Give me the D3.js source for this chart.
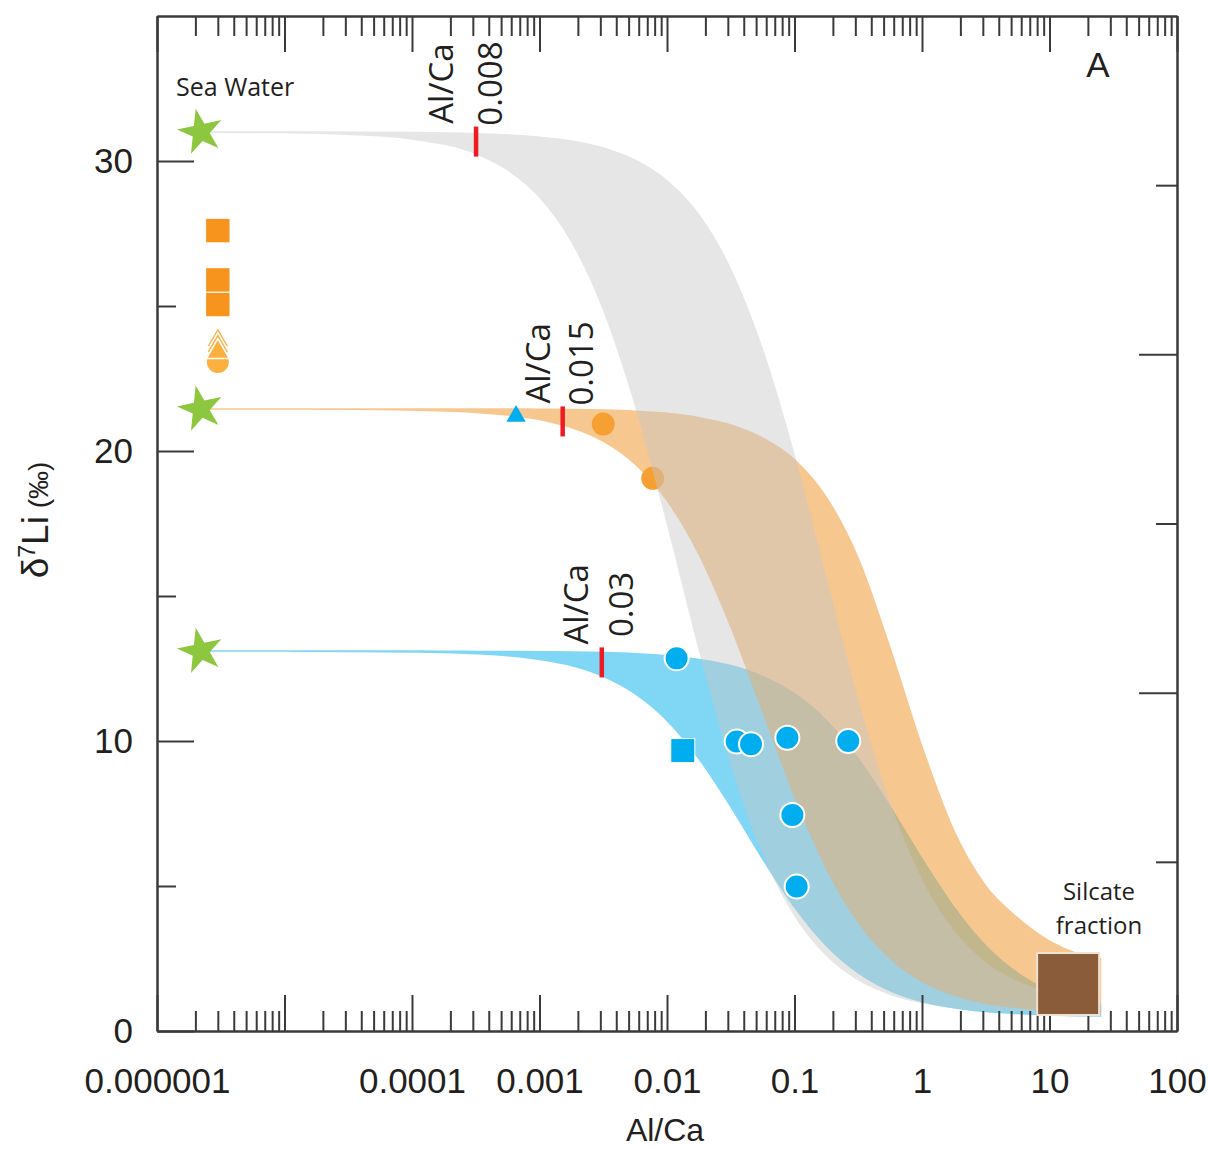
<!DOCTYPE html>
<html><head><meta charset="utf-8">
<script src="https://cdn.jsdelivr.net/npm/d3@7"></script>
<style>
body{margin:0;background:#fff;}
svg{display:block;}
</style></head>
<body><svg id="chart" width="1210" height="1149"></svg>
<script>
// ---------- DATA ----------
// Al/Ca positions at which the mixing-band edges were read
const bandAlCa = [2.2e-6, 1e-5, 3.16e-5, 1e-4, 3.16e-4, 5.62e-4, 1e-3, 1.78e-3, 3.16e-3, 5.62e-3, 0.01, 0.0178, 0.0316, 0.0562, 0.1, 0.178, 0.316, 0.562, 1, 1.78, 3.16, 5.62, 10, 15.8, 25.1];
const grayLower   = [31.0, 30.98, 30.92, 30.76, 30.26, 29.70, 28.76, 27.24, 24.90, 21.61, 17.54, 13.20, 9.26, 6.16, 4.00, 2.61, 1.77, 1.27, 0.98, 0.81, 0.72, 0.67, 0.64, 0.62, 0.61];
const grayUpper   = [31.0, 31.0, 30.99, 30.98, 30.94, 30.90, 30.82, 30.69, 30.45, 30.03, 29.32, 28.14, 26.26, 23.49, 19.81, 15.55, 11.35, 7.80, 5.18, 3.43, 2.34, 1.69, 1.30, 1.12, 1.00];
const orangeLower = [21.45, 21.45, 21.44, 21.41, 21.33, 21.24, 21.09, 20.81, 20.34, 19.55, 18.30, 16.44, 13.95, 11.03, 8.11, 5.61, 3.75, 2.50, 1.71, 1.24, 0.96, 0.81, 0.72, 0.67, 0.65];
const orangeUpper = [21.45, 21.45, 21.45, 21.45, 21.45, 21.45, 21.44, 21.43, 21.41, 21.37, 21.30, 21.15, 20.90, 20.45, 19.70, 18.40, 16.30, 13.20, 9.80, 6.90, 5.00, 3.90, 3.10, 2.70, 2.50];
const blueLower   = [13.1, 13.1, 13.09, 13.07, 13.01, 12.94, 12.81, 12.60, 12.23, 11.63, 10.71, 9.39, 7.74, 5.94, 4.27, 2.94, 2.00, 1.39, 1.02, 0.80, 0.67, 0.60, 0.55, 0.53, 0.52];
const blueUpper   = [13.1, 13.1, 13.1, 13.1, 13.09, 13.09, 13.08, 13.07, 13.05, 13.01, 12.94, 12.81, 12.60, 12.23, 11.63, 10.71, 9.39, 7.74, 5.94, 4.27, 2.94, 2.00, 1.39, 1.08, 0.87];

const seaWaterAlCa = [2.2e-6, 2.2e-6, 2.2e-6];
const seaWaterD7Li = [31.0, 21.45, 13.1];

const orangeSquareAlCa = [3.0e-6, 3.0e-6, 3.0e-6];
const orangeSquareD7Li = [27.6, 25.9, 25.05];
const orangeRoundAlCa = [3.0e-6];
const orangeRoundD7Li = [23.07];
const orangeTriAlCa = [3.0e-6, 3.0e-6, 3.0e-6];
const orangeTriD7Li = [23.82, 23.62, 23.42];
const orangeCircleAlCa = [0.00316, 0.00773];
const orangeCircleD7Li = [20.93, 19.06];

const blueTriAlCa = [0.000655];
const blueTriD7Li = [21.2];
const blueSquareAlCa = [0.0133];
const blueSquareD7Li = [9.67];
const blueCircleAlCa = [0.0119, 0.0352, 0.0456, 0.0879, 0.264, 0.0962, 0.104];
const blueCircleD7Li = [12.85, 9.98, 9.89, 10.11, 10.0, 7.45, 4.98];

const silicateAlCa = [14];
const silicateD7Li = [1.62];

const thresholdAlCa = [3.18e-4, 1.52e-3, 3.08e-3];
const thresholdD7Li = [30.67, 21.02, 12.71];
const thresholdLabels = ["0.008", "0.015", "0.03"];

const xMajorTicks = [1e-6, 1e-5, 1e-4, 1e-3, 1e-2, 1e-1, 1, 10, 100];
const xTickLabels = ["0.000001", "", "0.0001", "0.001", "0.01", "0.1", "1", "10", "100"];
const yMajorTicks = [0, 10, 20, 30];
const yMinorTicks = [5, 15, 25];
const rightMajorTicks = [2, 4];
const rightMinorTicks = [1, 3, 5];

// ---------- LAYOUT ----------
const svg = d3.select("#chart");
const x = d3.scaleLog().domain([1e-6, 100]).range([157, 1177]);
const y = d3.scaleLinear().domain([0, 35]).range([1031, 16]);
const yR = d3.scaleLinear().domain([0, 6]).range([1031, 16]);
const numFont = "'Liberation Sans', Arial, Helvetica, sans-serif";
const lblFont = "'Open Sans', 'Noto Sans', sans-serif";
const ink = "#231f20";
const axisInk = "#3a3a3a";

const minorX = [];
for (let e = -6; e < 2; e++) for (let m = 2; m <= 9; m++) minorX.push(m * Math.pow(10, e));

// ---------- BANDS ----------
const area = d3.area()
  .x(d => x(d.a)).y0(d => y(d.lo)).y1(d => y(d.hi))
  .curve(d3.curveMonotoneX);
const mk = (lo, hi) => bandAlCa.map((a, i) => ({a, lo: lo[i], hi: hi[i]}));

const gBlue = svg.append("g");
gBlue.append("path").attr("d", area(mk(blueLower, blueUpper)))
  .attr("fill", "rgb(128,214,245)").attr("stroke", "rgb(128,214,245)").attr("stroke-width", 1.5);

const gOrange = svg.append("g").attr("opacity", 0.57);
gOrange.append("path").attr("d", area(mk(orangeLower, orangeUpper)))
  .attr("fill", "rgb(242,158,62)").attr("stroke", "rgb(242,158,62)").attr("stroke-width", 1.5);

// orange samples lying on the band (under the grey band)
svg.append("g").selectAll("circle").data(orangeCircleAlCa).join("circle")
  .attr("cx", d => x(d)).attr("cy", (d, i) => y(orangeCircleD7Li[i])).attr("r", 11.5)
  .attr("fill", "#f6a034");

const gGray = svg.append("g").attr("opacity", 0.45);
gGray.append("path").attr("d", area(mk(grayLower, grayUpper)))
  .attr("fill", "rgb(200,200,200)").attr("stroke", "rgb(200,200,200)").attr("stroke-width", 1.5);

// ---------- AXES ----------
function styleAxis(g) {
  g.selectAll("path.domain").attr("stroke", axisInk).attr("stroke-width", 2);
  g.selectAll(".tick line").attr("stroke", axisInk).attr("stroke-width", 2);
  g.selectAll(".tick text").attr("fill", ink).attr("font-family", numFont).attr("font-size", 35);
}
// bottom
svg.append("g").attr("transform", "translate(0,1031)")
  .call(d3.axisBottom(x).tickValues(minorX).tickSizeInner(-20).tickSizeOuter(0).tickFormat(""))
  .call(styleAxis);
svg.append("g").attr("transform", "translate(0,1031)")
  .call(d3.axisBottom(x).tickValues(xMajorTicks).tickSizeInner(-36).tickSizeOuter(0).tickPadding(37)
    .tickFormat((d, i) => xTickLabels[i]))
  .call(styleAxis);
// top
svg.append("g").attr("transform", "translate(0,16)")
  .call(d3.axisTop(x).tickValues(minorX).tickSizeInner(-20).tickSizeOuter(0).tickFormat(""))
  .call(styleAxis);
svg.append("g").attr("transform", "translate(0,16)")
  .call(d3.axisTop(x).tickValues(xMajorTicks).tickSizeInner(-36).tickSizeOuter(0).tickFormat(""))
  .call(styleAxis);
// left
svg.append("g").attr("transform", "translate(157,0)")
  .call(d3.axisLeft(y).tickValues(yMinorTicks).tickSizeInner(-19).tickSizeOuter(0).tickFormat(""))
  .call(styleAxis);
svg.append("g").attr("transform", "translate(157,0)")
  .call(d3.axisLeft(y).tickValues(yMajorTicks).tickSizeInner(-37).tickSizeOuter(0).tickPadding(24)
    .tickFormat(d3.format("d")))
  .call(styleAxis);
// right
svg.append("g").attr("transform", "translate(1177,0)")
  .call(d3.axisRight(yR).tickValues(rightMinorTicks).tickSizeInner(-21).tickSizeOuter(0).tickFormat(""))
  .call(styleAxis);
svg.append("g").attr("transform", "translate(1177,0)")
  .call(d3.axisRight(yR).tickValues(rightMajorTicks).tickSizeInner(-38).tickSizeOuter(0).tickFormat(""))
  .call(styleAxis);

// ---------- MARKERS ----------
// sea water stars
svg.append("g").selectAll("path").data(seaWaterAlCa).join("path")
  .attr("d", d3.symbol(d3.symbolStar, 640)())
  .attr("transform", (d, i) => `translate(${x(d)},${y(seaWaterD7Li[i])}) rotate(-12)`)
  .attr("fill", "#8dc63f");

// orange squares
svg.append("g").selectAll("rect").data(orangeSquareAlCa).join("rect")
  .attr("x", d => x(d) - 11.7).attr("y", (d, i) => y(orangeSquareD7Li[i]) - 11.7)
  .attr("width", 23.4).attr("height", 23.4).attr("fill", "#f7941d");
// orange round + stacked triangles
svg.append("g").selectAll("circle").data(orangeRoundAlCa).join("circle")
  .attr("cx", d => x(d)).attr("cy", (d, i) => y(orangeRoundD7Li[i])).attr("r", 11)
  .attr("fill", "#fbb040");
svg.append("g").selectAll("path").data(orangeTriAlCa).join("path")
  .attr("d", d3.symbol(d3.symbolTriangle, 231)())
  .attr("transform", (d, i) => `translate(${x(d)},${y(orangeTriD7Li[i])})`)
  .attr("fill", "#fbb040").attr("stroke", "#fff").attr("stroke-width", 1.6);

// blue triangle
svg.append("g").selectAll("path").data(blueTriAlCa).join("path")
  .attr("d", d3.symbol(d3.symbolTriangle, 160)())
  .attr("transform", (d, i) => `translate(${x(d)},${y(blueTriD7Li[i])})`)
  .attr("fill", "#00aeef");
// blue square
svg.append("g").selectAll("rect").data(blueSquareAlCa).join("rect")
  .attr("x", d => x(d) - 12).attr("y", (d, i) => y(blueSquareD7Li[i]) - 12)
  .attr("width", 24).attr("height", 24).attr("fill", "#00aeef")
  .attr("stroke", "#fff").attr("stroke-width", 1);
// blue circles
svg.append("g").selectAll("circle").data(blueCircleAlCa).join("circle")
  .attr("cx", d => x(d)).attr("cy", (d, i) => y(blueCircleD7Li[i])).attr("r", 12)
  .attr("fill", "#00aeef").attr("stroke", "#fff").attr("stroke-width", 2);

// threshold markers + labels
const labelOffsets = [[-23, 26], [-13, 30], [-14, 31]];
const gThr = svg.append("g");
thresholdAlCa.forEach((a, i) => {
  const mx = x(a), my = y(thresholdD7Li[i]);
  gThr.append("line").attr("x1", mx).attr("x2", mx).attr("y1", my - 15).attr("y2", my + 15)
    .attr("stroke", "#ed1c24").attr("stroke-width", 4.5);
  const cy = my - 15 - 43;
  [["Al/Ca", labelOffsets[i][0]], [thresholdLabels[i], labelOffsets[i][1]]].forEach(([t, dx]) => {
    gThr.append("text").text(t)
      .attr("transform", `translate(${mx + dx},${cy}) rotate(-90)`)
      .attr("text-anchor", "middle").attr("font-family", lblFont).attr("font-size", 33)
      .attr("fill", ink);
  });
});

// silicate end member
svg.append("g").selectAll("rect").data(silicateAlCa).join("rect")
  .attr("x", d => x(d) - 31).attr("y", (d, i) => y(silicateD7Li[i]) - 31)
  .attr("width", 62).attr("height", 62).attr("fill", "#8a5c3a")
  .attr("stroke", "#efe2d2").attr("stroke-width", 2);

// ---------- TEXT ----------
svg.append("text").text("Sea Water").attr("x", 176).attr("y", 96)
  .attr("font-family", lblFont).attr("font-size", 25).attr("fill", ink);
svg.append("text").text("Silcate").attr("x", 1099).attr("y", 900).attr("text-anchor", "middle")
  .attr("font-family", lblFont).attr("font-size", 24).attr("fill", ink);
svg.append("text").text("fraction").attr("x", 1099).attr("y", 934).attr("text-anchor", "middle")
  .attr("font-family", lblFont).attr("font-size", 24).attr("fill", ink);
svg.append("text").text("A").attr("x", 1098).attr("y", 77).attr("text-anchor", "middle")
  .attr("font-family", numFont).attr("font-size", 35).attr("fill", ink);
svg.append("text").text("Al/Ca").attr("x", 665).attr("y", 1141).attr("text-anchor", "middle")
  .attr("font-family", numFont).attr("font-size", 32).attr("fill", ink);

const yt = svg.append("text").attr("transform", "translate(48,520) rotate(-90)")
  .attr("text-anchor", "middle").attr("font-family", numFont).attr("font-size", 37).attr("fill", ink);
yt.append("tspan").text("δ");
yt.append("tspan").text("7").attr("font-size", 23).attr("dy", -13);
yt.append("tspan").text("Li").attr("dy", 13);
yt.append("tspan").text(" (‰)").attr("font-size", 28);
</script>
</body></html>
